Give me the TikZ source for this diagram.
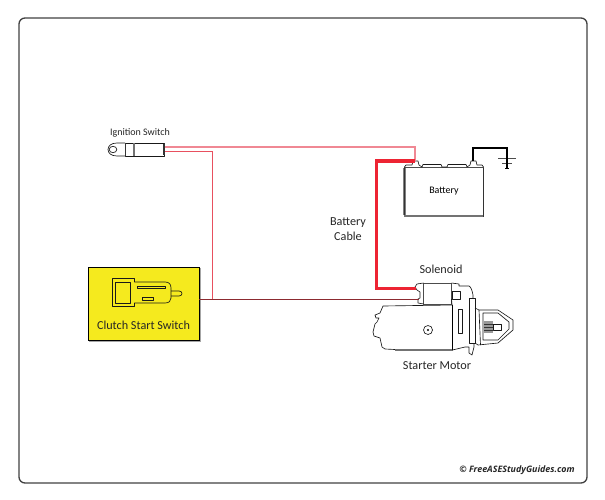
\documentclass[tikz,border=0pt]{standalone}
\usepackage{fontspec}
\setmainfont{Carlito}
\newfontfamily\creditfont{Open Sans}
\usetikzlibrary{arrows.meta,positioning,calc}
\definecolor{SwitchYellow}{HTML}{F5EA1E}
\definecolor{CableRed}{HTML}{ED2433}
\definecolor{WirePink}{HTML}{F08894}
\definecolor{WireRose}{HTML}{E8505F}
\definecolor{WireDark}{HTML}{8C2A30}

\begin{document}
\begin{tikzpicture}[
  x=1pt, y=-1pt,
  every node/.style={font=\fontsize{12.2}{14}\selectfont, inner sep=0pt, outer sep=0pt},
  outline/.style={draw=black!90, line width=0.65pt, line join=round},
  pinkwire/.style={draw=WirePink, line width=1.4pt},
  rosewire/.style={draw=WireRose, line width=1pt},
  thinwire/.style={draw=WireDark, line width=0.7pt},
  cable/.style={draw=CableRed, line width=3pt},
  groundwire/.style={draw=black, line width=1.6pt},
  label/.style={text=black!85}
]
\useasboundingbox (0,0) rectangle (605,500);

% frame
\node[draw=black!75, line width=1.3pt, rounded corners=6pt, minimum width=568pt, minimum height=465pt] (Frame) at (303,250.5) {};

% ignition switch
\node[outline, fill=white, minimum width=39pt, minimum height=13pt] (IgnBody) at (144.5,149.5) {};
\draw[outline, fill=white] (125,143) -- (117,143) .. controls (111,143) and (108,146) .. (108,149.5) .. controls (108,153) and (111,156) .. (117,156) -- (125,156);
\draw[outline] (113,149.5) ellipse (3.8pt and 3.2pt);
\draw[draw=black!55, line width=1.2pt] (134,143) -- (134,156);
\draw[draw=black!80, line width=1.4pt] (164,144) -- (164,155);
\node[label, font=\fontsize{10}{11}\selectfont, above=5.5pt of IgnBody.north, xshift=-4.5pt] (IgnText) {Ignition Switch};
\coordinate (IgnTop) at (165,147);
\coordinate (IgnLow) at (165,152);

% clutch start switch
\fill[black!35] (89,268) rectangle (200.5,341.5);
\node[draw=black, line width=1pt, fill=SwitchYellow, minimum width=111pt, minimum height=73pt] (Clutch) at (143.5,303.5) {};
\node[label, above=10.5pt of Clutch.south] (ClutchText) {Clutch Start Switch};
\draw[outline] (171,291) -- (179,291) .. controls (183,291) and (183,296) .. (179,296) -- (171,296);
\draw[outline] (112.5,278.5) -- (134.5,278.5) -- (134.5,282) -- (165,282) .. controls (169,282) and (171,284) .. (171,288) -- (171,298) .. controls (171,301) and (169,303) .. (165,303) -- (134.5,303) -- (134.5,306.5) -- (112.5,306.5) -- cycle;
\draw[outline] (115.5,282) rectangle (130,303.5);
\draw[outline] (137,286) rectangle (165,288.5);
\draw[outline] (142,297) rectangle (153,300);

% battery
\fill[black!50] (403,168) rectangle (406,215);
\node[draw=black!80, line width=0.8pt, minimum width=79pt, minimum height=49pt, font=\fontsize{10}{12}\selectfont] (Battery) at (444,191.5) {Battery};
\draw[draw=black!55, line width=1.2pt] (404,216) -- (483,216);
\draw[outline, fill=white] (404.5,167) -- (406,165) -- (412,165) -- (413,161) -- (418,161) -- (419,165) -- (422,167) -- (423,164.5) -- (441,164.5) -- (442,167) -- (447,167) -- (448,164.5) -- (466,164.5) -- (467,167) -- (470,165) -- (471,161) -- (476,161) -- (477,165) -- (482,165) -- (483.5,167);
\coordinate (BatPlus) at (415,161);
\coordinate (BatMinus) at (473,161);

% ground
\coordinate (GndTop) at (507,148);
\coordinate (GndEnd) at (507,169);
\draw[draw=black!70, line width=0.7pt] (498,158.5) -- (516,158.5);
\draw[draw=black!70, line width=0.7pt] (502,163.5) -- (512,163.5);
\draw[draw=black, line width=0.7pt] (505,168.5) -- (509,168.5);

% starter motor
\draw[outline, fill=white] (383,306) -- (380,313) -- (375,315) -- (376,318) -- (379,318) -- (377,322) -- (375,324) -- (373,332) -- (374,336) -- (380,338) -- (382,347) -- (385,349) -- (395,349.5) -- (452.5,350) -- (452.5,305) -- cycle;
\draw[draw=black!55, line width=1.5pt] (395,350) -- (452.5,350);
\draw[draw=black, line width=1.2pt] (452.7,305) -- (452.7,350);
\node[outline, circle, minimum size=9pt] (Screw) at (428,330) {};
\fill[black] (Screw) circle (1.2pt);
\draw[outline] (458,309) rectangle (462,333);
% solenoid
\node[draw=black!70, line width=0.65pt, fill=white, minimum width=28pt, minimum height=21pt] (Solenoid) at (437.5,293.5) {};
\draw[outline] (451.5,283) -- (459,284) -- (459,286) -- (469,286) .. controls (471,287) and (472,290) .. (473,295) -- (474,347) -- (472,355) -- (469,353) -- (469,347) -- (465,347) -- (452.5,350);
\draw[outline] (452,291) rectangle (460,299);
\draw[outline] (451.5,299) -- (452,304.5);
\draw[outline] (423.5,283) -- (417,284) -- (415,287) -- (417,290) -- (420,292) -- (420,298) -- (418,299) -- (418,303) -- (423.5,304);
\coordinate (SolTop) at (416,288.5);
\coordinate (SolLow) at (419,299);
\draw[outline, fill=white] (469,298) rectangle (475,343);
% drive end
\draw[outline] (475,308) -- (479,310) -- (498,310) -- (513,320) -- (513,330) -- (498,343) -- (478,345) -- (475,343);
\draw[outline] (479,310) -- (480.5,345);
\draw[outline] (483,313) -- (498,313) -- (509,322) -- (509,329) -- (498,340) -- (483,340) -- cycle;
\draw[outline] (493,324) rectangle (501,330);
\fill[black!40] (484,321) rectangle (493,333);
\foreach \yy in {324,327,330}
  \draw[black!80, line width=0.5pt] (484,\yy) -- (493,\yy);

% labels
\node[label] (SolenoidText) at (441,269) {Solenoid};
\node[label] (MotorText) at (437,366) {Starter Motor};
\node[label, align=center, font=\fontsize{12.2}{14.5}\selectfont] (CableText) at (348,229) {Battery\\Cable};
\node[font=\creditfont\fontsize{8.9}{10}\selectfont\bfseries\itshape, text=black!85] (Credit) at (517,470) {© FreeASEStudyGuides.com};

% wires
\draw[pinkwire] (IgnTop) -| (BatPlus);
\draw[rosewire] (IgnLow) -| (212,298.5);
\draw[thinwire] (Clutch.east |- SolLow) -- (SolLow);
\draw[cable] (BatPlus) -| (376,288.5) -- (SolTop);
\draw[groundwire] (BatMinus) |- (GndTop) -- (GndEnd);

\end{tikzpicture}
\end{document}
